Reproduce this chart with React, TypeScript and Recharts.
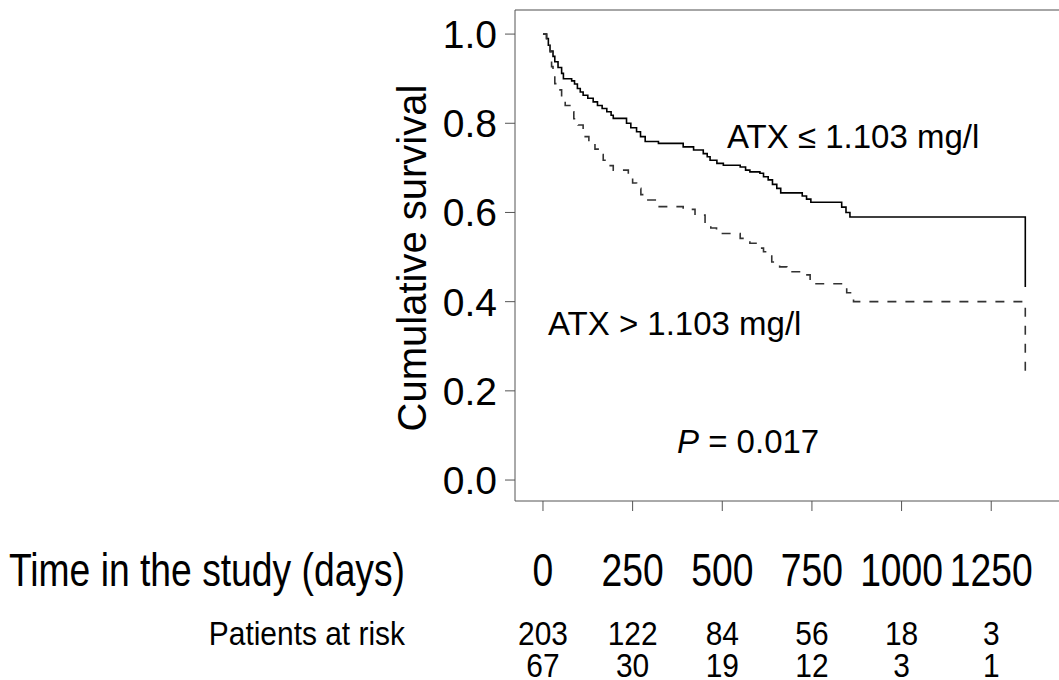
import { LineChart, Line, XAxis, YAxis, ReferenceLine } from 'recharts';

// Kaplan-Meier steps: days and survival
const lowAtxTimes = [0, 10, 15, 20, 28, 33, 42, 52, 57, 80, 88, 96, 104, 112, 125, 140, 152, 165, 178, 190, 196, 233, 245, 261, 272, 285, 322, 391, 420, 447, 458, 466, 485, 503, 550, 565, 577, 605, 615, 628, 640, 652, 663, 723, 735, 747, 833, 845, 856, 1345];
const lowAtxSurv = [1.0, 0.99, 0.975, 0.962, 0.95, 0.938, 0.925, 0.912, 0.9, 0.895, 0.888, 0.878, 0.87, 0.863, 0.856, 0.848, 0.84, 0.833, 0.826, 0.818, 0.811, 0.8, 0.79, 0.781, 0.77, 0.759, 0.755, 0.747, 0.74, 0.732, 0.725, 0.717, 0.71, 0.706, 0.702, 0.695, 0.691, 0.688, 0.68, 0.673, 0.663, 0.654, 0.644, 0.637, 0.63, 0.623, 0.612, 0.6, 0.59, 0.433];

const highAtxTimes = [0, 10, 20, 24, 28, 33, 42, 52, 62, 75, 86, 98, 112, 128, 145, 157, 168, 182, 196, 238, 250, 261, 273, 285, 317, 391, 424, 452, 468, 484, 550, 577, 600, 615, 638, 660, 680, 722, 745, 847, 866, 1345];
const highAtxSurv = [1.0, 0.985, 0.96, 0.927, 0.91, 0.889, 0.875, 0.852, 0.84, 0.826, 0.81, 0.796, 0.77, 0.757, 0.742, 0.73, 0.717, 0.705, 0.695, 0.68, 0.666, 0.654, 0.64, 0.628, 0.613, 0.607, 0.594, 0.576, 0.565, 0.553, 0.542, 0.531, 0.52, 0.512, 0.489, 0.478, 0.467, 0.46, 0.44, 0.42, 0.4, 0.235];

const xTicks = [0, 250, 500, 750, 1000, 1250];
const yTicks = [0, 0.2, 0.4, 0.6, 0.8, 1.0];
const atRiskLow = [203, 122, 84, 56, 18, 3];
const atRiskHigh = [67, 30, 19, 12, 3, 1];

const lowData = lowAtxTimes.map((t, i) => ({ t, s: lowAtxSurv[i] }));
const highData = highAtxTimes.map((t, i) => ({ t, s: highAtxSurv[i] }));

const X_DOMAIN: [number, number] = [-78, 1439];
const Y_DOMAIN: [number, number] = [-0.047, 1.054];

const FONT = '"Liberation Sans", Arial, sans-serif';

// horizontally condensed text, baseline at (x, y)
const Narrow = ({ x, y, size, squeeze = 0.81, anchor = 'middle', children }: any) => (
  <g transform={`translate(${x},${y}) scale(${squeeze},1)`}>
    <text x={0} y={0} textAnchor={anchor} fontFamily={FONT} fontSize={size} fill="#000">
      {children}
    </text>
  </g>
);

const TimeTick = (props: any) => {
  const { x, payload, index } = props;
  return (
    <g>
      <Narrow x={x} y={586} size={46}>{payload.value}</Narrow>
      <Narrow x={x} y={645} size={34} squeeze={0.88}>{atRiskLow[index]}</Narrow>
      <Narrow x={x} y={677} size={34} squeeze={0.88}>{atRiskHigh[index]}</Narrow>
    </g>
  );
};

export default function App() {
  return (
    <div style={{ position: 'absolute', left: 0, top: 0, width: 1059, height: 680, background: '#fff' }}>
      <LineChart width={1059} height={680} margin={{ top: 10, right: 0, left: 0, bottom: 0 }}>
        <XAxis
          type="number"
          dataKey="t"
          domain={X_DOMAIN}
          allowDataOverflow
          ticks={xTicks}
          tick={<TimeTick />}
          tickSize={10}
          height={179}
          stroke="#555"
          interval={0}
        />
        <YAxis
          type="number"
          dataKey="s"
          domain={Y_DOMAIN}
          allowDataOverflow
          ticks={yTicks}
          tickFormatter={(v: number) => v.toFixed(1)}
          tick={{ fontSize: 39, fontFamily: FONT, fill: '#000' }}
          tickSize={10}
          tickMargin={8}
          width={515}
          stroke="#555"
          interval={0}
        />
        <ReferenceLine y={Y_DOMAIN[1]} stroke="#888" strokeWidth={1.5} />
        <Line
          data={lowData}
          dataKey="s"
          type="stepAfter"
          stroke="#000"
          strokeWidth={1.6}
          dot={false}
          isAnimationActive={false}
        />
        <Line
          data={highData}
          dataKey="s"
          type="stepAfter"
          stroke="#333"
          strokeWidth={1.6}
          strokeDasharray="9 9"
          dot={false}
          isAnimationActive={false}
        />
        <text x={412} y={258} transform="rotate(-90 412 258)" textAnchor="middle" dominantBaseline="central" fontFamily={FONT} fontSize={40} fill="#000">
          Cumulative survival
        </text>
        <text x={727} y={148} fontFamily={FONT} fontSize={33} fill="#000">
          ATX ≤ 1.103 mg/l
        </text>
        <text x={548} y={335} fontFamily={FONT} fontSize={33} fill="#000">
          ATX &gt; 1.103 mg/l
        </text>
        <text x={677} y={453} fontFamily={FONT} fontSize={33} fill="#000">
          <tspan fontStyle="italic">P</tspan> = 0.017
        </text>
        <Narrow x={405} y={586} size={46} anchor="end">Time in the study (days)</Narrow>
        <Narrow x={405} y={645} size={34} squeeze={0.88} anchor="end">Patients at risk</Narrow>
      </LineChart>
    </div>
  );
}
